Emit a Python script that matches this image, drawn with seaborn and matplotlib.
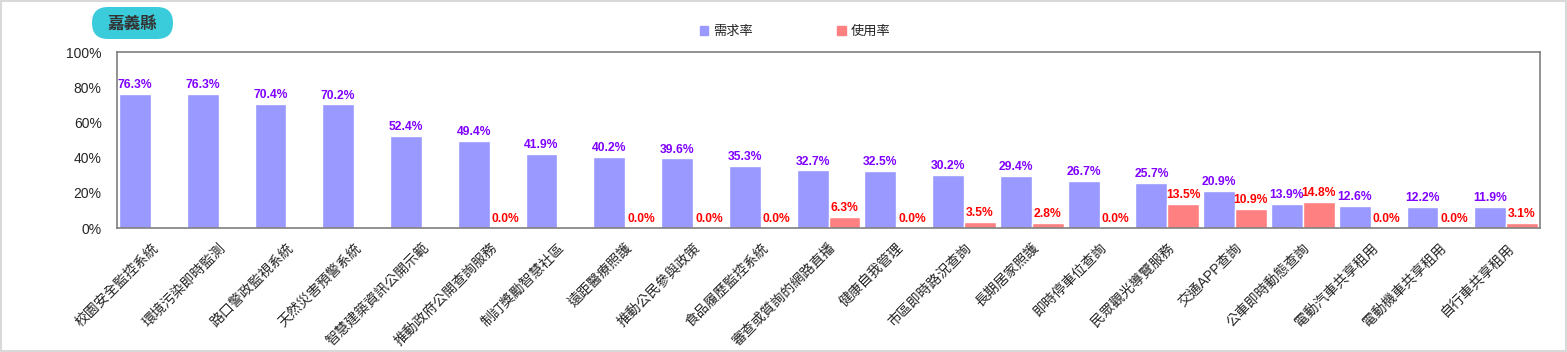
import numpy as np
import pandas as pd
import matplotlib
matplotlib.use("Agg")
import matplotlib.pyplot as plt
import seaborn as sns
from matplotlib.patches import FancyBboxPatch, Rectangle

categories = ["校園安全監控系統", "環境污染即時監測", "路口警政監視系統", "天然災害預警系統",
              "智慧建築資訊公開示範", "推動政府公開查詢服務", "制訂獎勵智慧社區", "遠距醫療照護",
              "推動公民參與政策", "食品履歷監控系統", "審查或質詢的網路直播", "健康自我管理",
              "市區即時路況查詢", "長期居家照護", "即時停車位查詢", "民眾觀光導覽服務",
              "交通APP查詢", "公車即時動態查詢", "電動汽車共享租用", "電動機車共享租用",
              "自行車共享租用"]
demand = [76.3, 76.3, 70.4, 70.2, 52.4, 49.4, 41.9, 40.2, 39.6, 35.3, 32.7, 32.5,
          30.2, 29.4, 26.7, 25.7, 20.9, 13.9, 12.6, 12.2, 11.9]
usage = [np.nan, np.nan, np.nan, np.nan, np.nan, 0.0, np.nan, 0.0, 0.0, 0.0, 6.3, 0.0,
         3.5, 2.8, 0.0, 13.5, 10.9, 14.8, 0.0, 0.0, 3.1]
series_names = ["需求率", "使用率"]
title = "嘉義縣"
yticks = [0, 20, 40, 60, 80, 100]
ytick_labels = ["0%", "20%", "40%", "60%", "80%", "100%"]

sns.set_theme(style="white")
plt.rcParams['font.family'] = ['Liberation Sans', 'Noto Sans CJK TC', 'DejaVu Sans']

W, H = 1567, 352

df = pd.DataFrame({
    "cat": categories * 2,
    "series": [series_names[0]] * len(categories) + [series_names[1]] * len(categories),
    "value": demand + usage,
})

colors = {"需求率": "#9999FF", "使用率": "#FF8080"}
label_colors = {"需求率": "#7F00FF", "使用率": "#FF0000"}

fig = plt.figure(figsize=(W / 100, H / 100), dpi=100)

# background overlay in pixel coordinates (for badge and border)
bg = fig.add_axes([0, 0, 1, 1], zorder=-1)
bg.set_xlim(0, W)
bg.set_ylim(H, 0)
bg.axis("off")
bg.add_patch(Rectangle((0.5, 0.5), W - 2, H - 2, fill=False, edgecolor="#D9D9D9", linewidth=1.5))
bg.add_patch(FancyBboxPatch((92, 7), 81, 32, boxstyle="round,pad=0,rounding_size=16",
                            facecolor="#3BCCDC", edgecolor="none"))
bg.text(132.5, 23.5, title, ha="center", va="center", fontsize=12, fontweight="bold",
        color="#333333")

ax = fig.add_axes([117 / W, 1 - 228 / H, (1540 - 117) / W, (228 - 52) / H])

sns.barplot(data=df, x="cat", y="value", hue="series", palette=colors, ax=ax,
            width=0.94, saturation=1, legend=False, errorbar=None)

for container, name in zip(ax.containers, series_names):
    labels = []
    for bar in container:
        h = bar.get_height()
        labels.append("" if np.isnan(h) else f"{h:.1f}%")
    ax.bar_label(container, labels=labels, padding=2, color=label_colors[name],
                 fontsize=8.7, fontweight="bold")

ax.set_ylim(0, 100)
ax.set_xlim(-0.5, len(categories) - 0.5)
ax.set_yticks(yticks)
ax.set_yticklabels(ytick_labels, fontsize=10)
ax.set_xlabel("")
ax.set_ylabel("")
ax.tick_params(axis="y", length=0, pad=11)
ax.tick_params(axis="x", length=0, pad=9)
plt.setp(ax.get_xticklabels(), rotation=45, ha="right", rotation_mode="anchor", fontsize=10)
for s in ax.spines.values():
    s.set_color("#7F7F7F")
    s.set_linewidth(1.2)

# legend
handles = [Rectangle((0, 0), 1, 1, color=colors[n]) for n in series_names]
fig.legend(handles, series_names, loc="center", bbox_to_anchor=(795 / W, 1 - 32 / H),
           ncol=2, frameon=False, fontsize=9.5, handlelength=0.65, handleheight=0.65,
           columnspacing=6.4, handletextpad=0.35)

fig.savefig("out.png", dpi=100)
